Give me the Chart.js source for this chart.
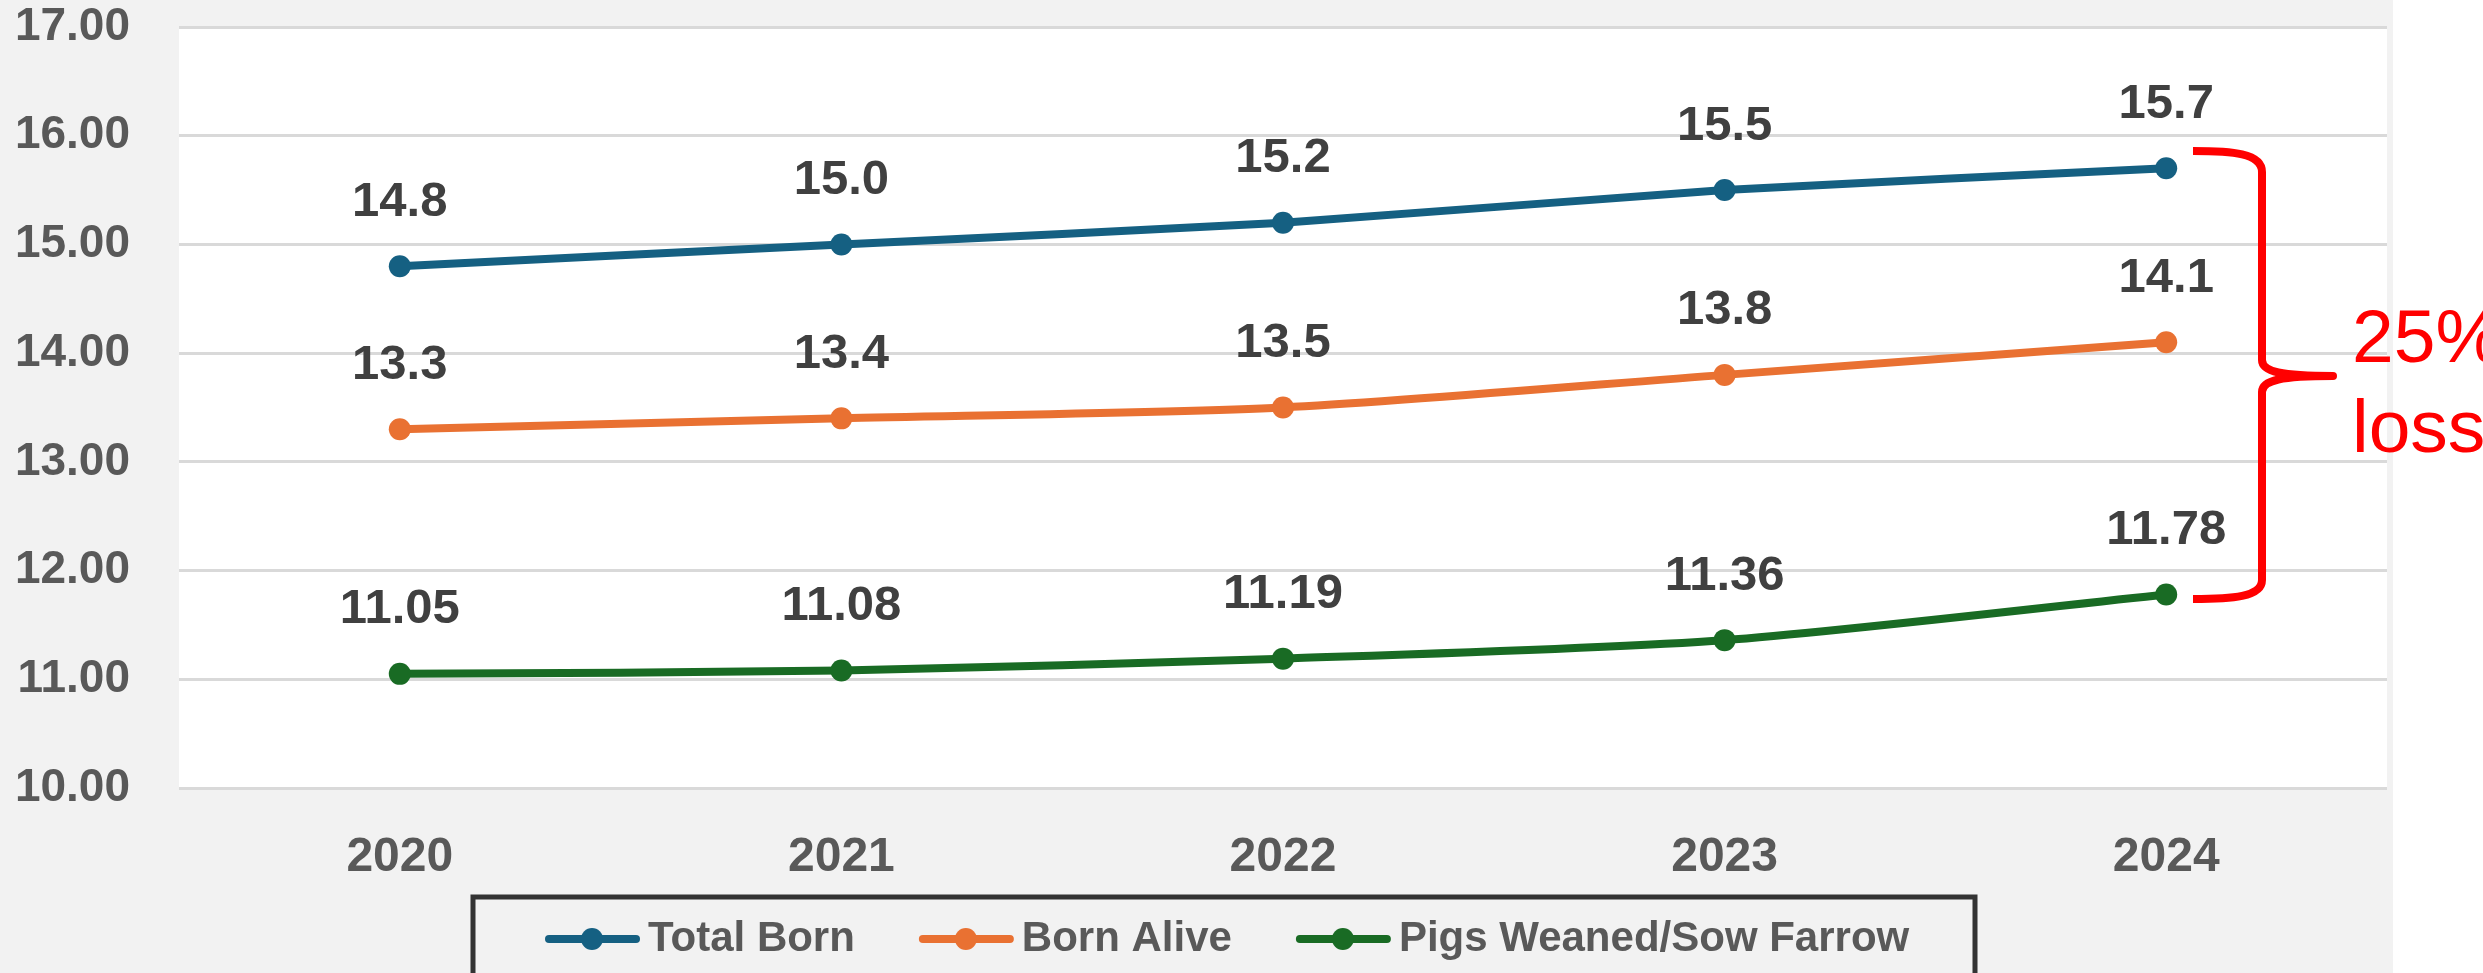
<!DOCTYPE html>
<html>
<head>
<meta charset="utf-8">
<title>Litter performance 2020–2024</title>
<script src="https://cdn.jsdelivr.net/npm/chart.js@4.4.1/dist/chart.umd.min.js"></script>
<style>
  html, body { margin: 0; padding: 0; background: #ffffff; }
  canvas { display: block; }
</style>
</head>
<body>
<canvas id="chart" width="2483" height="973"></canvas>
<script>
// Years on the category axis
const years = ['2020', '2021', '2022', '2023', '2024'];

// Series values, one per year
const totalBorn  = [14.8, 15.0, 15.2, 15.5, 15.7];
const bornAlive  = [13.3, 13.4, 13.5, 13.8, 14.1];
const pigsWeaned = [11.05, 11.08, 11.19, 11.36, 11.78];

const seriesNames   = ['Total Born', 'Born Alive', 'Pigs Weaned/Sow Farrow'];
const seriesColors  = ['#156082', '#E97132', '#196B24'];
const labelDecimals = [1, 1, 2];

// Value axis range
const yMin = 10, yMax = 17, yStep = 1;

// Side note next to the bracket
const noteLines = ['25%', 'loss'];

const FONT = '"Liberation Sans", Arial, Helvetica, sans-serif';
const W = 2483, H = 973;

// Grey panel behind the chart, white plot area
const panelBackground = {
  id: 'panelBackground',
  beforeDraw(chart) {
    const { ctx, chartArea: a } = chart;
    ctx.save();
    ctx.fillStyle = '#ffffff';
    ctx.fillRect(0, 0, W, H);
    ctx.fillStyle = '#f2f2f2';
    ctx.fillRect(0, 0, 2393, H);
    ctx.fillStyle = '#ffffff';
    ctx.fillRect(a.left, a.top, a.right - a.left, a.bottom - a.top);
    ctx.restore();
  }
};

// Value labels above every point
const valueLabels = {
  id: 'valueLabels',
  afterDatasetsDraw(chart) {
    const ctx = chart.ctx;
    ctx.save();
    ctx.font = 'bold 49px ' + FONT;
    ctx.fillStyle = '#404040';
    ctx.textAlign = 'center';
    ctx.textBaseline = 'middle';
    chart.data.datasets.forEach((ds, i) => {
      chart.getDatasetMeta(i).data.forEach((pt, j) => {
        ctx.fillText(ds.data[j].toFixed(labelDecimals[i]), pt.x, pt.y - 64);
      });
    });
    ctx.restore();
  }
};

// Boxed legend below the axis, line-and-marker symbols
const boxLegend = {
  id: 'boxLegend',
  afterDraw(chart) {
    const ctx = chart.ctx;
    ctx.save();
    ctx.fillStyle = '#f2f2f2';
    ctx.fillRect(473, 897, 1502, 110);
    ctx.strokeStyle = '#333333';
    ctx.lineWidth = 5;
    ctx.strokeRect(473, 897, 1502, 110);
    ctx.font = 'bold 42px ' + FONT;
    ctx.textBaseline = 'middle';
    ctx.textAlign = 'left';
    const y = 939;
    let x = 545;
    chart.data.datasets.forEach(ds => {
      ctx.strokeStyle = ds.borderColor;
      ctx.lineWidth = 8;
      ctx.lineCap = 'round';
      ctx.beginPath();
      ctx.moveTo(x + 4, y);
      ctx.lineTo(x + 91, y);
      ctx.stroke();
      ctx.fillStyle = ds.borderColor;
      ctx.beginPath();
      ctx.arc(x + 47, y, 11, 0, Math.PI * 2);
      ctx.fill();
      ctx.fillStyle = '#595959';
      ctx.fillText(ds.label, x + 103, y);
      x += 103 + ctx.measureText(ds.label).width + 64;
    });
    ctx.restore();
  }
};

// Red curly bracket with its note on the right
const bracketNote = {
  id: 'bracketNote',
  afterDraw(chart) {
    const ctx = chart.ctx;
    ctx.save();
    ctx.strokeStyle = '#ff0000';
    ctx.fillStyle = '#ff0000';
    ctx.lineWidth = 8;
    ctx.lineJoin = 'round';
    ctx.lineCap = 'butt';
    ctx.beginPath();
    ctx.moveTo(2193, 151);
    ctx.bezierCurveTo(2232, 151, 2262, 153, 2262, 172);
    ctx.lineTo(2262, 360);
    ctx.bezierCurveTo(2262, 372, 2282, 376, 2333, 376);
    ctx.stroke();
    ctx.beginPath();
    ctx.moveTo(2333, 376);
    ctx.bezierCurveTo(2282, 376, 2262, 380, 2262, 392);
    ctx.lineTo(2262, 580);
    ctx.bezierCurveTo(2262, 597, 2232, 599, 2193, 599);
    ctx.stroke();
    ctx.beginPath();
    ctx.arc(2333, 376, 4, 0, Math.PI * 2);
    ctx.fill();
    ctx.font = '75px ' + FONT;
    ctx.textAlign = 'left';
    ctx.textBaseline = 'alphabetic';
    ctx.fillText(noteLines[0], 2352, 362);
    ctx.fillText(noteLines[1], 2352, 452);
    ctx.restore();
  }
};

const seriesValues = [totalBorn, bornAlive, pigsWeaned];

new Chart(document.getElementById('chart'), {
  type: 'line',
  data: {
    labels: years,
    datasets: seriesValues.map((vals, i) => ({
      label: seriesNames[i],
      data: vals,
      borderColor: seriesColors[i],
      backgroundColor: seriesColors[i],
      pointBackgroundColor: seriesColors[i],
      pointBorderWidth: 0,
      pointRadius: 11,
      borderWidth: 8,
      tension: 0.25,
      fill: false
    }))
  },
  options: {
    responsive: false,
    animation: false,
    devicePixelRatio: 1,
    layout: { padding: { top: 27, right: 96, bottom: 0, left: 0 } },
    plugins: {
      legend: { display: false },
      tooltip: { enabled: false }
    },
    scales: {
      x: {
        offset: true,
        grid: { display: false, drawTicks: false },
        border: { display: false },
        ticks: {
          font: { family: FONT, size: 48, weight: 'bold' },
          color: '#595959',
          padding: 41,
          maxRotation: 0
        },
        afterFit(scale) { scale.height = 185; }
      },
      y: {
        min: yMin,
        max: yMax,
        grid: { color: '#d9d9d9', lineWidth: 3, drawTicks: false },
        border: { display: false },
        ticks: {
          stepSize: yStep,
          font: { family: FONT, size: 46, weight: 'bold' },
          color: '#595959',
          padding: 49,
          callback: v => Number(v).toFixed(2)
        },
        afterFit(scale) {
          scale.width = 179;
          scale.paddingTop = 0;
          scale.paddingBottom = 0;
        }
      }
    }
  },
  plugins: [panelBackground, valueLabels, boxLegend, bracketNote]
});
</script>
</body>
</html>
